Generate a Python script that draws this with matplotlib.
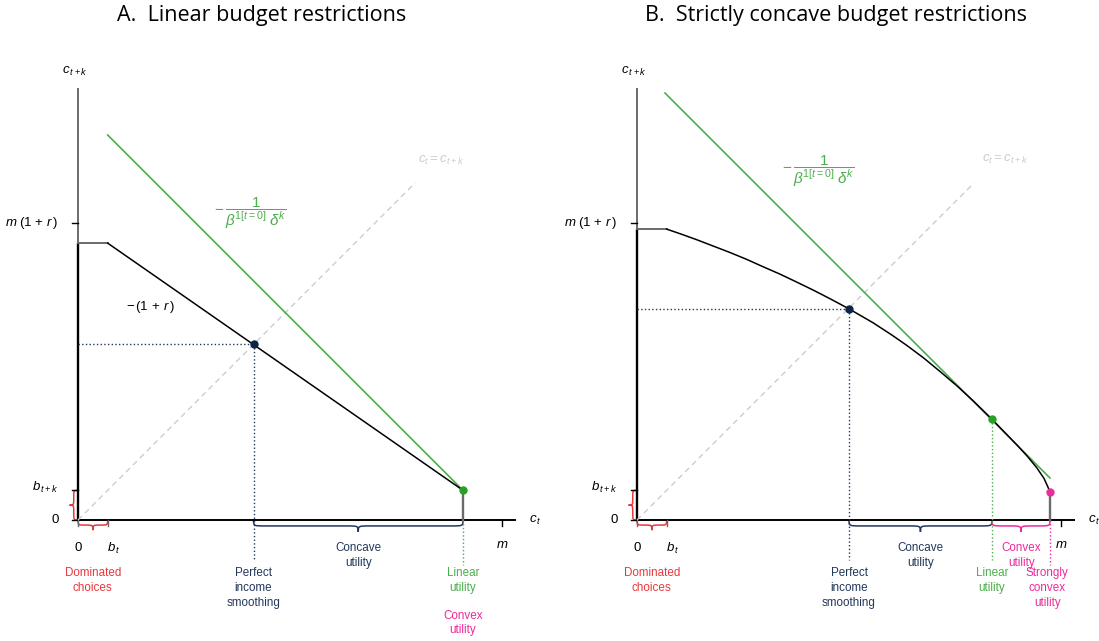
import matplotlib
matplotlib.use('Agg')
import matplotlib.pyplot as plt
from matplotlib.path import Path
from matplotlib.patches import PathPatch

plt.rcParams['font.family'] = ['Liberation Sans', 'DejaVu Sans']
plt.rcParams['mathtext.fontset'] = 'custom'
plt.rcParams['mathtext.rm'] = 'Liberation Sans'
plt.rcParams['mathtext.it'] = 'Liberation Sans:italic'

# values (units: m = 10)
m = 10.0
m_1r = 7.0
b_t = 0.7
b_tk = 0.7
diag_end = 7.95

# panel A: linear budget
lin_top = 6.53
lin_budget_x = [b_t, 9.08]
lin_budget_y = [lin_top, b_tk]
lin_green_x = [b_t, 9.08]
lin_green_y = [9.08, b_tk]
lin_smooth = (4.14, 4.14)
lin_end = (9.08, b_tk)

# panel B: strictly concave budget
conc_top = 6.86
conc_x = [0.70, 1.05, 1.41, 1.80, 2.19, 2.58, 2.98, 3.37, 3.77, 4.16, 4.55, 5.00, 5.57, 6.00, 6.36,
          6.75, 7.15, 7.55, 7.93, 8.37, 8.65, 8.96, 9.20, 9.43, 9.60, 9.74]
conc_y = [6.86, 6.74, 6.61, 6.46, 6.31, 6.15, 5.97, 5.80, 5.61, 5.42, 5.22, 4.98, 4.65, 4.37, 4.12,
          3.83, 3.50, 3.16, 2.81, 2.38, 2.09, 1.77, 1.51, 1.23, 0.98, 0.67]
conc_green_x = [0.66, 9.74]
conc_green_y = [10.07, 0.99]
conc_smooth = (5.00, 4.98)
conc_tangent = (8.37, 2.38)
conc_end = (9.74, 0.67)

RED = '#e8383d'
NAVY = '#22385c'
GREEN = '#4cae4c'
GDOT = '#2a9d2a'
PINK = '#ee2a9b'
GRAY = '#6a6a6a'
LGRAY = '#cccccc'

S = 42.4  # pixels per unit
W, H = 1099, 641
ylim = ((520 - H) / S, 520 / S)
FS = 8.4
MS = 9.5
LS = 1.3


def brace(ax, a, b, pos, h, color, vertical=False):
    # curly brace from a to b along the axis at pos, bulging towards negative side
    r = min(2 * h, (b - a) / 4)
    mid = (a + b) / 2
    pts = [(a, pos), (a, pos - h), (a, pos - h), (a + r, pos - h),
           (mid - r, pos - h),
           (mid, pos - h), (mid, pos - h), (mid, pos - 2 * h),
           (mid, pos - h), (mid, pos - h), (mid + r, pos - h),
           (b - r, pos - h),
           (b, pos - h), (b, pos - h), (b, pos)]
    codes = [Path.MOVETO, Path.CURVE4, Path.CURVE4, Path.CURVE4,
             Path.LINETO,
             Path.CURVE4, Path.CURVE4, Path.CURVE4,
             Path.CURVE4, Path.CURVE4, Path.CURVE4,
             Path.LINETO,
             Path.CURVE4, Path.CURVE4, Path.CURVE4]
    if vertical:
        pts = [(p[1], p[0]) for p in pts]
    ax.add_patch(PathPatch(Path(pts, codes), fill=False, ec=color, lw=1.1, clip_on=False))


def label(ax, x, y, s, color='black', size=FS):
    ax.text(x, y, s, ha='center', va='center', fontsize=size, color=color, linespacing=LS)


def frame(ax, top, end):
    ax.plot([0, 0], [0, 10.19], color=GRAY, lw=1.4, solid_capstyle='butt')
    ax.plot([0, 0], [0, top], color='black', lw=1.7, solid_capstyle='butt')
    ax.plot([0, 10.3], [0, 0], color='black', lw=1.4)
    ax.plot([0, b_t], [top, top], color=GRAY, lw=1.4)
    ax.plot([end[0], end[0]], [0, end[1]], color=GRAY, lw=1.7)
    for yv in [m_1r, b_tk, 0]:
        ax.plot([-0.15, 0], [yv, yv], color='black', lw=1.0)
    for xv in [0, b_t, m]:
        ax.plot([xv, xv], [0, -0.15], color='black' if xv == m else GRAY, lw=1.0)
    ax.plot([0, diag_end], [0, diag_end], color=LGRAY, lw=1.0, ls=(0, (4, 3)))
    brace(ax, 0, b_tk, 0, 0.1, RED, vertical=True)
    brace(ax, 0, b_t, 0, 0.12, RED)
    label(ax, -0.07, 10.57, r'$c_{\,t+k}$', size=MS)
    label(ax, 10.78, 0, r'$c_{\,t}$', size=MS)
    ax.text(-0.45, m_1r, r'$m\;(1\,+\,r\,)$', ha='right', va='center', fontsize=MS)
    ax.text(-0.45, 0.76, r'$b_{\,t+k}$', ha='right', va='center', fontsize=MS)
    ax.text(-0.45, 0, '0', ha='right', va='center', fontsize=MS)
    label(ax, 0, -0.66, '0', size=MS)
    label(ax, 0.85, -0.66, r'$b_{\,t}$', size=MS)
    label(ax, m, -0.58, r'$m$', size=MS)
    label(ax, 0.35, -1.42, 'Dominated\nchoices', RED)


fig = plt.figure(figsize=(W / 100, H / 100), dpi=100)
frac = r'$-\,\dfrac{1}{\beta^{1[t=0]}\;\delta^{k}}$'

# ---- panel A
ax1 = fig.add_axes([0, 0, 544 / W, 1])
ax1.set_xlim(-78 / S, (544 - 78) / S)
ax1.set_ylim(*ylim)
ax1.axis('off')
frame(ax1, lin_top, lin_end)
ax1.plot(lin_green_x, lin_green_y, color=GREEN, lw=1.2)
ax1.plot(lin_budget_x, lin_budget_y, color='black', lw=1.1)
ax1.plot([0, lin_smooth[0]], [lin_smooth[1]] * 2, color=NAVY, lw=1.0, ls=':')
ax1.plot([lin_smooth[0]] * 2, [lin_smooth[1], -0.94], color=NAVY, lw=1.0, ls=':')
ax1.plot([lin_end[0]] * 2, [0, -1.06], color=GREEN, lw=1.0, ls=':')
ax1.plot(*lin_smooth, 'o', color='#0b2447', ms=5)
ax1.plot(*lin_end, 'o', color=GDOT, ms=5)
brace(ax1, lin_smooth[0], lin_end[0], 0, 0.14, NAVY)
label(ax1, 4.06, 7.24, frac, GREEN, 11)
label(ax1, 1.7, 5.02, r'$-\,(1\,+\,r\,)$', size=MS)
label(ax1, 8.56, 8.49, r'$c_t = c_{t+k}$', LGRAY, MS)
label(ax1, 6.61, -0.83, 'Concave\nutility', NAVY)
label(ax1, lin_smooth[0], -1.6, 'Perfect\nincome\nsmoothing', NAVY)
label(ax1, lin_end[0], -1.42, 'Linear\nutility', GREEN)
label(ax1, lin_end[0], -2.43, 'Convex\nutility', PINK)

# ---- panel B
ax2 = fig.add_axes([550 / W, 0, 549 / W, 1])
ax2.set_xlim((550 - 637) / S, (1099 - 637) / S)
ax2.set_ylim(*ylim)
ax2.axis('off')
frame(ax2, conc_top, conc_end)
ax2.plot(conc_green_x, conc_green_y, color=GREEN, lw=1.2)
ax2.plot(conc_x, conc_y, color='black', lw=1.1)
ax2.plot([0, conc_smooth[0]], [conc_smooth[1]] * 2, color=NAVY, lw=1.0, ls=':')
ax2.plot([conc_smooth[0]] * 2, [conc_smooth[1], -0.94], color=NAVY, lw=1.0, ls=':')
ax2.plot([conc_tangent[0]] * 2, [conc_tangent[1], -0.94], color=GREEN, lw=1.0, ls=':')
ax2.plot([conc_end[0]] * 2, [0, -1.06], color=PINK, lw=1.0, ls=':')
ax2.plot(*conc_smooth, 'o', color='#0b2447', ms=5)
ax2.plot(*conc_tangent, 'o', color=GDOT, ms=5)
ax2.plot(*conc_end, 'o', color=PINK, ms=5)
brace(ax2, conc_smooth[0], conc_tangent[0], 0, 0.14, NAVY)
brace(ax2, conc_tangent[0], conc_end[0], 0, 0.14, PINK)
label(ax2, 4.27, 8.21, frac, GREEN, 11)
label(ax2, 8.68, 8.51, r'$c_t = c_{t+k}$', LGRAY, MS)
label(ax2, 6.68, -0.83, 'Concave\nutility', NAVY)
label(ax2, 9.06, -0.83, 'Convex\nutility', PINK)
label(ax2, conc_smooth[0], -1.6, 'Perfect\nincome\nsmoothing', NAVY)
label(ax2, conc_tangent[0], -1.42, 'Linear\nutility', GREEN)
label(ax2, 9.68, -1.6, 'Strongly\nconvex\nutility', PINK)

fig.text(262 / W, 1 - 16 / H, 'A.  Linear budget restrictions', ha='center', va='center',
         fontsize=15.5, family=['Open Sans', 'DejaVu Sans'])
fig.text(836 / W, 1 - 16 / H, 'B.  Strictly concave budget restrictions', ha='center', va='center',
         fontsize=15.5, family=['Open Sans', 'DejaVu Sans'])

fig.savefig('out.png', dpi=100)
